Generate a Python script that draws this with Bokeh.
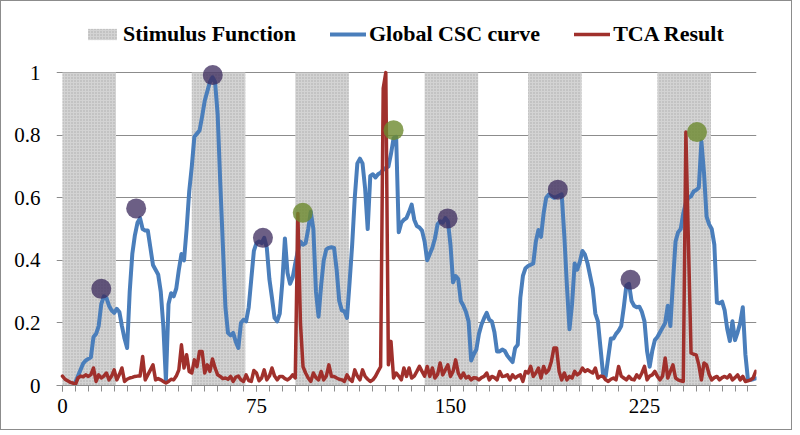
from bokeh.plotting import figure
from bokeh.models import Range1d, FixedTicker, Legend, LegendItem
from bokeh.embed import file_html
from bokeh.resources import INLINE

# ---------------- data ----------------
stim_start = [0, 50, 90, 140, 180, 230]
stim_end = [20.7, 70.7, 110.7, 160.7, 200.7, 250.7]

csc_start = 5
csc_values = [
    0.01, 0.03, 0.05, 0.07, 0.08, 0.085, 0.09, 0.155, 0.165, 0.19,
    0.26, 0.285, 0.28, 0.255, 0.24, 0.232, 0.245, 0.235, 0.19, 0.15,
    0.12, 0.30, 0.42, 0.48, 0.52, 0.535, 0.5, 0.495, 0.495, 0.44,
    0.385, 0.37, 0.355, 0.30, 0.19, 0.015, 0.26, 0.295, 0.285, 0.31,
    0.37, 0.42, 0.4, 0.5, 0.62, 0.70, 0.795, 0.805, 0.815, 0.86,
    0.91, 0.94, 0.97, 0.985, 0.97, 0.866, 0.65, 0.45, 0.25, 0.168,
    0.16, 0.168, 0.14, 0.12, 0.2, 0.21, 0.205, 0.25, 0.34, 0.43,
    0.455, 0.46, 0.455, 0.472, 0.44, 0.34, 0.28, 0.216, 0.205, 0.23,
    0.33, 0.47, 0.36, 0.325, 0.345, 0.39, 0.43, 0.46, 0.45, 0.455,
    0.5, 0.555, 0.5, 0.3, 0.22, 0.32, 0.4, 0.435, 0.44, 0.442,
    0.44, 0.37, 0.27, 0.24, 0.237, 0.216, 0.33, 0.45, 0.6, 0.71,
    0.725, 0.71, 0.63, 0.5, 0.67, 0.675, 0.665, 0.675, 0.68, 0.69,
    0.695, 0.7, 0.74, 0.79, 0.795, 0.49, 0.52, 0.53, 0.535, 0.555,
    0.578, 0.53, 0.51, 0.505, 0.495, 0.46, 0.4, 0.42, 0.44, 0.47,
    0.515, 0.525, 0.52, 0.535, 0.525, 0.45, 0.33, 0.35, 0.34, 0.27,
    0.255, 0.235, 0.205, 0.08, 0.1, 0.115, 0.165, 0.195, 0.215, 0.232,
    0.21, 0.205, 0.17, 0.109, 0.109, 0.115, 0.11, 0.095, 0.085, 0.075,
    0.12, 0.13, 0.28, 0.35, 0.375, 0.382, 0.386, 0.39, 0.46, 0.497,
    0.475, 0.55, 0.6, 0.61, 0.605, 0.6, 0.603, 0.607, 0.611, 0.48,
    0.32, 0.18, 0.26, 0.39, 0.37, 0.395, 0.43, 0.418, 0.39, 0.35,
    0.31, 0.23, 0.205, 0.12, 0.035, 0.03, 0.09, 0.15, 0.15, 0.165,
    0.175, 0.19, 0.25, 0.32, 0.325, 0.27, 0.255, 0.25, 0.252, 0.235,
    0.205, 0.11, 0.06, 0.11, 0.145, 0.155, 0.17, 0.185, 0.2, 0.255,
    0.19, 0.33, 0.46, 0.49, 0.5, 0.55, 0.585, 0.6, 0.605, 0.62,
    0.625, 0.632, 0.78, 0.68, 0.54, 0.515, 0.5, 0.45, 0.265, 0.263,
    0.268, 0.24, 0.18, 0.142, 0.205, 0.145, 0.17, 0.2, 0.25, 0.1,
    0.018, 0.018, 0.02, 0.023,
]

tca_start = 0
tca_values = [
    0.03, 0.02, 0.015, 0.01, 0.008, 0.003, 0.024, 0.03, 0.028, 0.034,
    0.029, 0.035, 0.056, 0.013, 0.034, 0.024, 0.03, 0.04, 0.018, 0.03,
    0.05, 0.018, 0.035, 0.056, 0.013, 0.02, 0.024, 0.026, 0.029, 0.03,
    0.03, 0.093, 0.018, 0.034, 0.05, 0.066, 0.018, 0.022, 0.018, 0.013,
    0.008, 0.013, 0.02, 0.018, 0.03, 0.05, 0.13, 0.056, 0.098, 0.045,
    0.04, 0.082, 0.06, 0.109, 0.109, 0.04, 0.066, 0.045, 0.085, 0.056,
    0.034, 0.029, 0.022, 0.024, 0.02, 0.029, 0.013, 0.027, 0.03, 0.018,
    0.013, 0.034, 0.016, 0.013, 0.048, 0.04, 0.015, 0.024, 0.05, 0.018,
    0.03, 0.056, 0.03, 0.018, 0.029, 0.029, 0.022, 0.018, 0.024, 0.034,
    0.024, 0.55, 0.2, 0.06, 0.04, 0.024, 0.013, 0.04, 0.025, 0.018,
    0.045, 0.018, 0.03, 0.066, 0.029, 0.029, 0.024, 0.02, 0.018, 0.013,
    0.034, 0.02, 0.013, 0.05, 0.03, 0.018, 0.05, 0.029, 0.02, 0.013,
    0.018, 0.029, 0.045, 0.06, 0.95, 1.0, 0.066, 0.141, 0.024, 0.04,
    0.03, 0.018, 0.056, 0.029, 0.056, 0.024, 0.03, 0.045, 0.061, 0.045,
    0.03, 0.061, 0.029, 0.056, 0.024, 0.035, 0.072, 0.034, 0.05, 0.066,
    0.029, 0.045, 0.082, 0.04, 0.024, 0.04, 0.024, 0.029, 0.018, 0.025,
    0.024, 0.018, 0.025, 0.029, 0.04, 0.018, 0.029, 0.025, 0.018, 0.045,
    0.029, 0.03, 0.034, 0.018, 0.034, 0.024, 0.03, 0.034, 0.013, 0.045,
    0.04, 0.061, 0.029, 0.04, 0.056, 0.024, 0.061, 0.04, 0.05, 0.077,
    0.12, 0.12, 0.045, 0.018, 0.04, 0.018, 0.029, 0.024, 0.045, 0.034,
    0.04, 0.056, 0.045, 0.05, 0.045, 0.04, 0.056, 0.024, 0.03, 0.029,
    0.018, 0.013, 0.02, 0.024, 0.018, 0.061, 0.03, 0.024, 0.018, 0.029,
    0.02, 0.018, 0.034, 0.024, 0.04, 0.061, 0.018, 0.03, 0.034, 0.045,
    0.029, 0.018, 0.03, 0.088, 0.024, 0.045, 0.066, 0.024, 0.018, 0.015,
    0.013, 0.81, 0.45, 0.104, 0.1, 0.098, 0.066, 0.018, 0.072, 0.066,
    0.035, 0.018, 0.025, 0.029, 0.018, 0.025, 0.029, 0.024, 0.034, 0.018,
    0.025, 0.034, 0.018, 0.029, 0.013, 0.015, 0.018, 0.024, 0.045,
]

peak_x = [15, 28.5, 58.1, 77.5, 148.9, 191.5, 219.6]
peak_y = [0.309, 0.566, 0.992, 0.472, 0.534, 0.626, 0.338]
match_x = [92.9, 128.0, 245.3]
match_y = [0.552, 0.816, 0.81]

x_ticks = [0, 75, 150, 225]
y_ticks = [0, 0.2, 0.4, 0.6, 0.8, 1.0]

# ---------------- figure ----------------
FONT = "'Liberation Serif', 'Times New Roman', serif"
p = figure(width=792, height=430, output_backend="svg", toolbar_location=None,
           x_range=Range1d(-2.3, 268.3), y_range=Range1d(0, 1.1857),
           min_border_left=55, min_border_right=37, min_border_top=13,
           min_border_bottom=46)
p.styles = {"border": "1px solid #8c8c8c"}
p.outline_line_color = None
p.background_fill_color = "white"
p.border_fill_color = "white"

stim = p.quad(left=stim_start, right=stim_end, bottom=0, top=1,
              fill_color="#d3d3d3", line_color=None,
              hatch_pattern="dot", hatch_color="#aaaaaa",
              hatch_scale=3, hatch_weight=1)

csc_x = list(range(csc_start, csc_start + len(csc_values)))
tca_x = list(range(tca_start, tca_start + len(tca_values)))
blue = p.line(csc_x, csc_values, line_color="#4a7ebb", line_width=4,
              line_join="round", line_cap="round")
red = p.line(tca_x, tca_values, line_color="#a0302c", line_width=3.5,
             line_join="round", line_cap="round")

p.scatter(peak_x, peak_y, size=20, fill_color="#3b2a5c", fill_alpha=0.75,
          line_color=None)
p.scatter(match_x, match_y, size=20, fill_color="#6d8a2e", fill_alpha=0.8,
          line_color=None)

# grid
p.xgrid.grid_line_color = None
p.ygrid.grid_line_color = "#8c8c8c"
p.ygrid.grid_line_width = 1
p.ygrid.ticker = FixedTicker(ticks=y_ticks)

# axes
p.xaxis.ticker = FixedTicker(ticks=x_ticks, minor_ticks=list(range(0, 270, 5)))
p.xaxis.axis_line_color = "#8c8c8c"
p.xaxis.major_tick_line_color = "#8c8c8c"
p.xaxis.minor_tick_line_color = "#8c8c8c"
p.xaxis.major_tick_out = 6
p.xaxis.major_tick_in = 0
p.xaxis.minor_tick_out = 6
p.xaxis.minor_tick_in = 0
p.xaxis.major_label_text_font = FONT
p.xaxis.major_label_text_font_size = "21px"
p.xaxis.major_label_text_color = "black"
p.xaxis.major_label_standoff = 7

p.yaxis.ticker = FixedTicker(ticks=y_ticks)
p.yaxis.axis_line_color = None
p.yaxis.major_tick_line_color = None
p.yaxis.minor_tick_line_color = None
p.yaxis.major_label_text_font = FONT
p.yaxis.major_label_text_font_size = "21px"
p.yaxis.major_label_text_color = "black"
p.yaxis.major_label_standoff = 10
p.yaxis.major_label_overrides = {0: "0", 1: "1"}

legend = Legend(items=[
    LegendItem(label="Stimulus Function", renderers=[stim]),
    LegendItem(label="Global CSC curve", renderers=[blue]),
    LegendItem(label="TCA Result", renderers=[red]),
], orientation="horizontal", location=(28, 338))
legend.label_text_font = FONT
legend.label_text_font_style = "bold"
legend.label_text_font_size = "22px"
legend.label_text_color = "black"
legend.glyph_width = 36
legend.glyph_height = 14
legend.label_standoff = 3
legend.spacing = 34
legend.padding = 0
legend.margin = 0
legend.border_line_color = None
legend.background_fill_alpha = 0
p.add_layout(legend, "center")

open("out.html", "w").write(file_html(p, INLINE))
